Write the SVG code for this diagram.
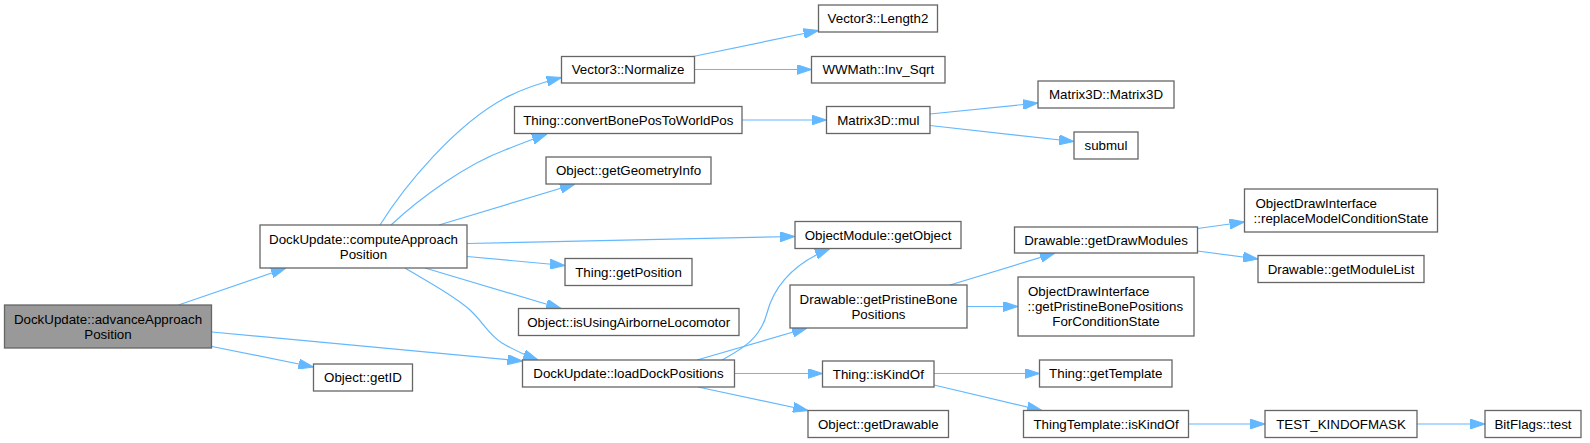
<svg xmlns="http://www.w3.org/2000/svg" width="1590" height="443" viewBox="0 0 1590 443">
<style>
.n rect{fill:#ffffff;stroke:#666666;stroke-width:1.3}
.n.root rect{fill:#999999}
.n text{font-family:"Liberation Sans",Arial,sans-serif;font-size:13.33px;fill:#000000;text-anchor:middle}
.n text.l{text-anchor:start}
.e path{fill:none;stroke:#63b8ff;stroke-width:1.2;marker-end:url(#ah)}
</style>
<defs>
<marker id="ah" markerUnits="userSpaceOnUse" viewBox="0 0 15 10" markerWidth="15" markerHeight="10" refX="15" refY="5" orient="auto">
<path d="M0,0 L15,5 L0,10 z" fill="#63b8ff" stroke="#63b8ff" stroke-width="1"/>
</marker>
</defs>
<rect width="1590" height="443" fill="#ffffff"/>
<g id="edges" class="e">
<path d="M178.5,305 L286,268"/>
<path d="M212,346.5 L313.5,367"/>
<path d="M212,332 L522.5,361"/>
<path d="M380,225 C405,185 455,125 505,98 C522,89 540,83 561.5,77.5"/>
<path d="M391,225 C420,198 465,165 505,150 C515,146 528,141 547,134"/>
<path d="M439,225 L575,184"/>
<path d="M467,243.5 L795,236.5"/>
<path d="M467,256.5 L565,265.5"/>
<path d="M425,268 L561,308.5"/>
<path d="M405,268 C430,283 455,296 470,310 C484,323 488,334 502,343 C512,349 522,354 538,360"/>
<path d="M693,56.5 L818.5,30.5"/>
<path d="M694.5,69.5 L811.5,69.5"/>
<path d="M742,120 L826.5,120"/>
<path d="M930,114 L1038,103"/>
<path d="M930,125.5 L1074,141.5"/>
<path d="M722,360 C740,350 760,340 767,313 C773,290 790,265 830,248.5"/>
<path d="M697,360 L807,328"/>
<path d="M734.5,373.5 L822.5,373.5"/>
<path d="M698,387 L808,410.5"/>
<path d="M950,285 L1055,253"/>
<path d="M967,306.5 L1018,306.5"/>
<path d="M934,373.5 L1039.5,373.5"/>
<path d="M934,385 L1042,410.5"/>
<path d="M1197.5,228.5 L1244.5,222"/>
<path d="M1197.5,251 L1258,259"/>
<path d="M1188.5,424 L1265,424"/>
<path d="M1417,424 L1485,424"/>
</g>
<g id="advanceApproachPosition" class="n root"><rect x="4.5" y="305" width="207" height="43"/><text x="108" y="323.5">DockUpdate::advanceApproach</text><text x="108" y="338.5">Position</text></g>
<g id="computeApproachPosition" class="n"><rect x="260" y="225" width="207" height="43"/><text x="363.5" y="243.5">DockUpdate::computeApproach</text><text x="363.5" y="258.5">Position</text></g>
<g id="getID" class="n"><rect x="313.5" y="364" width="99" height="27"/><text x="363" y="382">Object::getID</text></g>
<g id="Normalize" class="n"><rect x="561.5" y="56.5" width="133" height="26.5"/><text x="628" y="74.2">Vector3::Normalize</text></g>
<g id="convertBonePosToWorldPos" class="n"><rect x="514.5" y="106.5" width="227.5" height="27"/><text x="628.3" y="124.5">Thing::convertBonePosToWorldPos</text></g>
<g id="getGeometryInfo" class="n"><rect x="546" y="157" width="165" height="27"/><text x="628.5" y="175">Object::getGeometryInfo</text></g>
<g id="ObjectModule_getObject" class="n"><rect x="795" y="221.5" width="166" height="27"/><text x="878" y="239.5">ObjectModule::getObject</text></g>
<g id="getPosition" class="n"><rect x="565" y="258.5" width="127" height="27"/><text x="628.5" y="276.5">Thing::getPosition</text></g>
<g id="isUsingAirborneLocomotor" class="n"><rect x="518.5" y="308.5" width="220.5" height="27"/><text x="628.7" y="326.5">Object::isUsingAirborneLocomotor</text></g>
<g id="loadDockPositions" class="n"><rect x="522.5" y="360" width="212" height="27"/><text x="628.5" y="378">DockUpdate::loadDockPositions</text></g>
<g id="Length2" class="n"><rect x="818.5" y="5" width="119" height="27"/><text x="878" y="23">Vector3::Length2</text></g>
<g id="Inv_Sqrt" class="n"><rect x="811.5" y="56.5" width="133.5" height="26.5"/><text x="878.3" y="74.2">WWMath::Inv_Sqrt</text></g>
<g id="Matrix3D_mul" class="n"><rect x="826.5" y="106.5" width="103.5" height="27"/><text x="878.3" y="124.5">Matrix3D::mul</text></g>
<g id="getPristineBonePositions" class="n"><rect x="790" y="285" width="177" height="43"/><text x="878.5" y="303.5">Drawable::getPristineBone</text><text x="878.5" y="318.5">Positions</text></g>
<g id="Thing_isKindOf" class="n"><rect x="822.5" y="361" width="111.5" height="26"/><text x="878.3" y="378.5">Thing::isKindOf</text></g>
<g id="getDrawable" class="n"><rect x="808" y="410.5" width="140.5" height="27"/><text x="878.3" y="428.5">Object::getDrawable</text></g>
<g id="Matrix3D_Matrix3D" class="n"><rect x="1038" y="81" width="136" height="27"/><text x="1106" y="99">Matrix3D::Matrix3D</text></g>
<g id="submul" class="n"><rect x="1074" y="132" width="64" height="27"/><text x="1106" y="150">submul</text></g>
<g id="getDrawModules" class="n"><rect x="1014.5" y="227" width="183" height="26"/><text x="1106" y="244.5">Drawable::getDrawModules</text></g>
<g id="ODI_getPristineBonePositionsForConditionState" class="n"><rect x="1018" y="277" width="176" height="59"/><text class="l" x="1028" y="296">ObjectDrawInterface</text><text class="l" x="1027.5" y="311">::getPristineBonePositions</text><text x="1106" y="326">ForConditionState</text></g>
<g id="getTemplate" class="n"><rect x="1039.5" y="360" width="132.5" height="27"/><text x="1105.8" y="378">Thing::getTemplate</text></g>
<g id="ThingTemplate_isKindOf" class="n"><rect x="1023.5" y="410.5" width="165" height="27"/><text x="1106" y="428.5">ThingTemplate::isKindOf</text></g>
<g id="replaceModelConditionState" class="n"><rect x="1244.5" y="189" width="193" height="43"/><text class="l" x="1255.5" y="207.5">ObjectDrawInterface</text><text x="1341" y="222.5">::replaceModelConditionState</text></g>
<g id="getModuleList" class="n"><rect x="1258" y="255.5" width="166" height="27"/><text x="1341" y="273.5">Drawable::getModuleList</text></g>
<g id="TEST_KINDOFMASK" class="n"><rect x="1265" y="410.5" width="152" height="27"/><text x="1341" y="428.5">TEST_KINDOFMASK</text></g>
<g id="BitFlags_test" class="n"><rect x="1485" y="410.5" width="96" height="27"/><text x="1533" y="428.5">BitFlags::test</text></g>
</svg>
